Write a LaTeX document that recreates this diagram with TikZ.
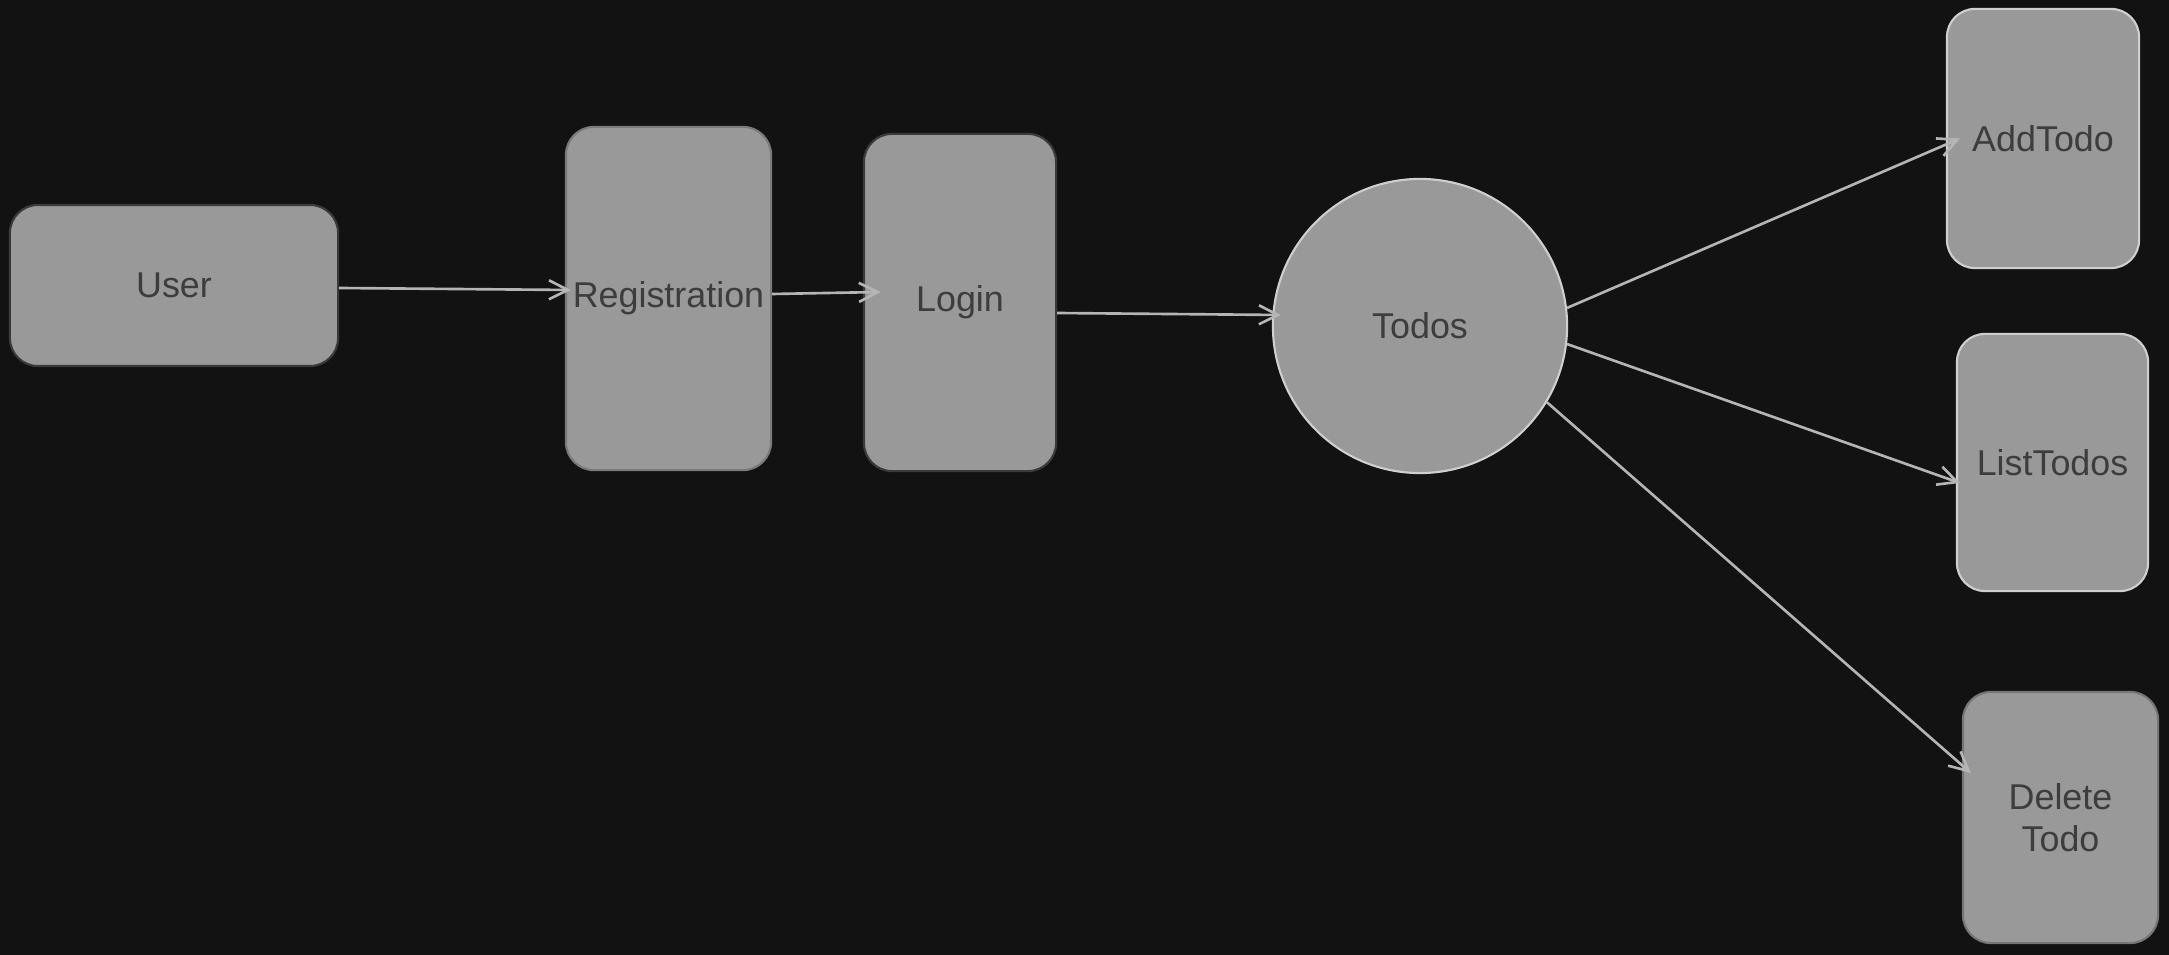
\documentclass[tikz,border=0pt]{standalone}
\usepackage{fontspec}
\setmainfont{Liberation Sans}
\usetikzlibrary{arrows.meta,calc}
\definecolor{bg}{HTML}{121212}
\definecolor{boxfill}{HTML}{999999}
\definecolor{txt}{HTML}{3D3D3D}
\definecolor{arr}{HTML}{B5B5B5}
\definecolor{darkedge}{HTML}{3A3A3A}
\definecolor{lightedge}{HTML}{CFCFCF}
\tikzset{
  box/.style={draw=darkedge, line width=0.6pt, fill=boxfill, rounded corners=0.28cm,
    text=txt, font=\fontsize{10.2}{11.8}\selectfont, align=center, inner sep=0pt},
  lightbox/.style={box, draw=lightedge},
  conn/.style={draw=arr, line width=0.75pt, -{Straight Barb[length=1.9mm,width=1.9mm]}},
}
\begin{document}
\begin{tikzpicture}[x=0.01cm,y=-0.01cm]
\fill[bg] (0,0) rectangle (2169,955);
\useasboundingbox (0,0) rectangle (2169,955);

\node[box, minimum width=3.28cm, minimum height=1.61cm] (user) at (174,285.5) {User};
\node[box, draw=boxfill!80!black, minimum width=2.05cm, minimum height=3.43cm] (reg) at (668.5,298.5) {Registration};
\node[box, minimum width=1.92cm, minimum height=3.37cm] (login) at (960,302.5) {Login};
\node[lightbox, circle, minimum size=2.94cm] (todos) at (1420,326) {Todos};
\node[lightbox, minimum width=1.92cm, minimum height=2.59cm] (add) at (2043,138.5) {AddTodo};
\node[lightbox, minimum width=1.91cm, minimum height=2.57cm] (list) at (2052.5,462.5) {ListTodos};
\node[box, draw=darkedge!60!lightedge, minimum width=1.95cm, minimum height=2.51cm] (del) at (2060.5,817.5) {Delete\\Todo};

\draw[conn] ($(user.east)+(0,2.5)$) -- ($(reg.west)+(6,-8.5)$);
\draw[conn] ($(reg.east)+(0,-4.5)$) -- ($(login.west)+(18,-10.5)$);
\draw[conn] ($(login.east)+(0,10.5)$) -- ($(todos.west)+(9,-11)$);
\draw[conn] (todos.7) -- ($(add.west)+(14,0)$);
\draw[conn] (todos.-7) -- ($(list.west)+(4,20.5)$);
\draw[conn] (todos.-31) -- ($(del.west)+(9,-44.5)$);
\end{tikzpicture}
\end{document}
